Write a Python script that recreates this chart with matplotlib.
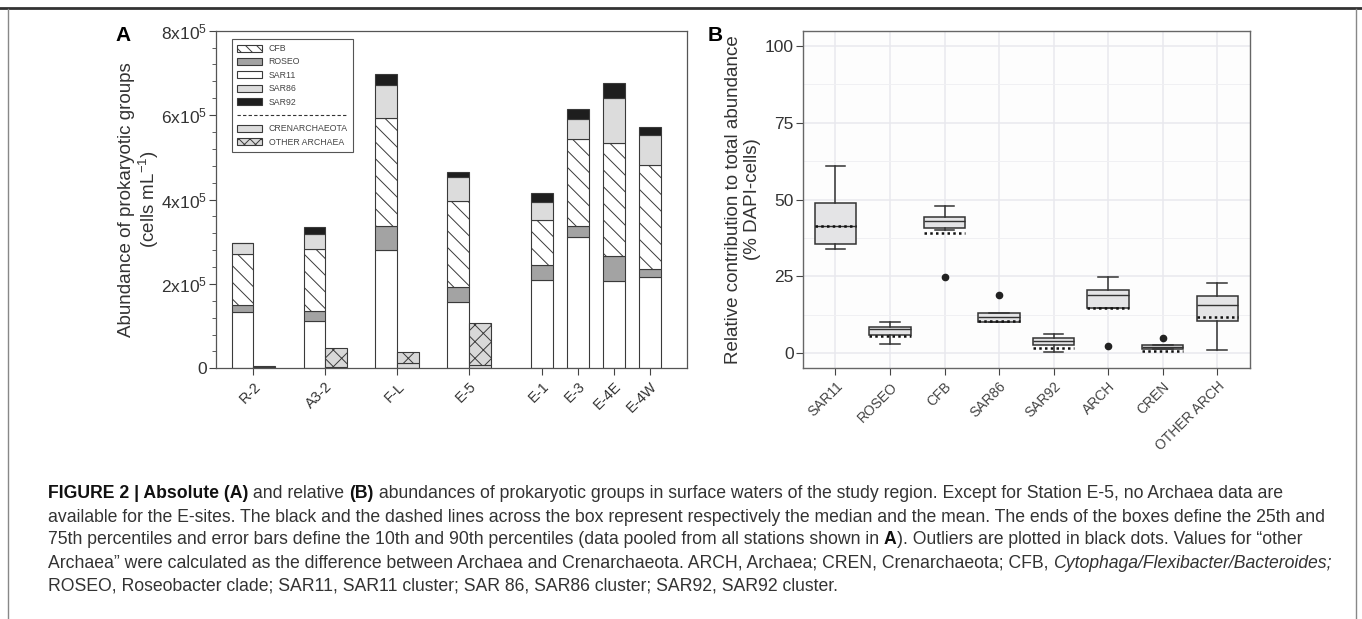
import numpy as np
import matplotlib
matplotlib.use("Agg")
import matplotlib.pyplot as plt
from matplotlib.lines import Line2D
from matplotlib.patches import Patch
from matplotlib.ticker import MultipleLocator

plt.rcParams.update({
    'font.family': ['Liberation Sans', 'DejaVu Sans'],
    'mathtext.fontset': 'custom',
    'mathtext.rm': 'Liberation Sans',
    'mathtext.it': 'Liberation Sans:italic',
    'mathtext.bf': 'Liberation Sans:bold',
    'hatch.linewidth': 0.7,
    'hatch.color': '#333333',
})

# ---- panel A data (x 1e5 cells/mL) ----
stations = ['R-2', 'A3-2', 'F-L', 'E-5', 'E-1', 'E-3', 'E-4E', 'E-4W']
sar11 = [1.33, 1.11, 2.80, 1.56, 2.10, 3.10, 2.08, 2.16]
roseo = [0.17, 0.24, 0.58, 0.36, 0.34, 0.28, 0.57, 0.19]
cfb = [1.20, 1.47, 2.56, 2.04, 1.08, 2.05, 2.70, 2.46]
sar86 = [0.27, 0.37, 0.78, 0.58, 0.42, 0.48, 1.06, 0.71]
sar92 = [0.00, 0.17, 0.25, 0.10, 0.22, 0.23, 0.36, 0.19]
arch_stations = ['R-2', 'A3-2', 'F-L', 'E-5']
cren = [0.03, 0.04, 0.13, 0.08]
other_arch = [0.02, 0.43, 0.26, 0.99]

# ---- panel B data (% DAPI cells) ----
groups = ['SAR11', 'ROSEO', 'CFB', 'SAR86', 'SAR92', 'ARCH', 'CREN', 'OTHER ARCH']
p10 = [34.0, 3.0, 40.1, 10.0, 0.4, 14.6, 1.5, 0.9]
p25 = [35.6, 6.0, 40.6, 10.0, 2.7, 14.6, 1.5, 10.6]
median = [41.4, 7.9, 42.9, 11.9, 3.9, 19.1, 2.0, 15.7]
p75 = [49.0, 8.5, 44.4, 13.0, 5.0, 20.5, 2.8, 18.7]
p90 = [61.0, 10.0, 47.9, 13.0, 6.1, 24.9, 2.8, 23.0]
mean = [41.4, 5.5, 39.2, 10.5, 1.7, 14.6, 0.8, 11.9]
outliers = [[], [], [24.9], [19.0], [], [2.2], [5.0], []]

fig = plt.figure(figsize=(13.62, 6.19), dpi=100)
W, H = 1362, 619

# ================= panel A =================
axA = fig.add_axes([216 / W, 1 - 368.3 / H, 471 / W, 337.6 / H])
bx = np.array([0, 3.3, 6.6, 9.9, 13.75, 15.4, 17.05, 18.7])
ax_x = bx[:4] + 1
scale = 1e5
ec = '#3a3a3a'
layers = [(sar11, 'white', None), (roseo, '#a3a3a3', None), (cfb, 'white', '\\\\'),
          (sar86, '#dcdcdc', None), (sar92, '#1e1e1e', None)]
bottom = np.zeros(len(stations))
for vals, col, hatch in layers:
    v = np.array(vals) * scale
    axA.bar(bx, v, width=1, bottom=bottom, color=col, edgecolor=ec, linewidth=0.8, hatch=hatch)
    bottom += v
c = np.array(cren) * scale
o = np.array(other_arch) * scale
axA.bar(ax_x, c, width=1, color='#dcdcdc', edgecolor=ec, linewidth=0.8)
axA.bar(ax_x, o, width=1, bottom=c, color='#d8d8d8', edgecolor=ec, linewidth=0.8, hatch='xx')

axA.set_xlim(-1.216, 20.39)
axA.set_ylim(0, 8e5)
axA.set_yticks([0, 2e5, 4e5, 6e5, 8e5])
axA.set_yticklabels(['0', '2x10$^5$', '4x10$^5$', '6x10$^5$', '8x10$^5$'])
axA.yaxis.set_minor_locator(MultipleLocator(0.4e5))
tick_x = list(bx[:4] + 0.5) + list(bx[4:])
axA.set_xticks(tick_x)
axA.set_xticklabels(stations, rotation=45, ha='right', rotation_mode='anchor')
axA.tick_params(axis='y', which='major', length=5, pad=1.5, labelsize=12.5, colors='#444', labelcolor='#333')
axA.tick_params(axis='y', which='minor', length=3, colors='#444')
axA.tick_params(axis='x', length=5, pad=3, labelsize=10.5, colors='#444', labelcolor='#333')
for s in axA.spines.values():
    s.set_color('#555')
    s.set_linewidth(0.9)
axA.set_ylabel('Abundance of prokaryotic groups\n(cells mL$^{-1}$)', fontsize=13.5,
               color='#333', labelpad=0, linespacing=1.1)

handles = [Patch(facecolor='white', edgecolor=ec, hatch='\\\\\\', lw=0.8),
           Patch(facecolor='#a3a3a3', edgecolor=ec, lw=0.8),
           Patch(facecolor='white', edgecolor=ec, lw=0.8),
           Patch(facecolor='#dcdcdc', edgecolor=ec, lw=0.8),
           Patch(facecolor='#1e1e1e', edgecolor=ec, lw=0.8),
           Line2D([], [], color='none'),
           Patch(facecolor='#dcdcdc', edgecolor=ec, lw=0.8),
           Patch(facecolor='#d8d8d8', edgecolor=ec, hatch='xxx', lw=0.8)]
labels = ['CFB', 'ROSEO', 'SAR11', 'SAR86', 'SAR92', ' ', 'CRENARCHAEOTA', 'OTHER ARCHAEA']
leg = axA.legend(handles, labels, loc='upper left', bbox_to_anchor=(0.033, 0.976),
                 borderaxespad=0, fontsize=6.3, handlelength=2.9, handleheight=0.85,
                 labelspacing=0.5, handletextpad=0.75, borderpad=0.6, fancybox=False,
                 framealpha=1, edgecolor='#555', labelcolor='#444')
leg.get_frame().set_linewidth(0.8)

# ================= panel B =================
axB = fig.add_axes([802.7 / W, 1 - 368.3 / H, 447.3 / W, 337.6 / H])
stats = []
for i, g in enumerate(groups):
    stats.append(dict(label=g, whislo=p10[i], q1=p25[i], med=median[i], q3=p75[i],
                      whishi=p90[i], mean=mean[i], fliers=outliers[i]))
pos = np.arange(1, len(groups) + 1)
axB.bxp(stats, positions=pos, widths=0.76, capwidths=0.36, patch_artist=True,
        showmeans=True, meanline=True,
        boxprops=dict(facecolor='#e4e4e6', edgecolor='#333', linewidth=1.1),
        medianprops=dict(color='#333', linewidth=1.0),
        whiskerprops=dict(color='#333', linewidth=1.1),
        capprops=dict(color='#333', linewidth=1.1),
        meanprops=dict(color='#111', linestyle=(0, (1, 1.3)), linewidth=1.8),
        flierprops=dict(marker='o', markerfacecolor='#222', markeredgecolor='#222', markersize=4.5))
axB.set_xlim(0.4, 8.6)
axB.set_ylim(-4.9, 104.9)
axB.set_yticks([0, 25, 50, 75, 100])
axB.set_yticks([12.5, 37.5, 62.5, 87.5], minor=True)
axB.set_xticks(pos)
axB.set_xticklabels(groups, rotation=45, ha='right', rotation_mode='anchor')
axB.set_facecolor('#fdfdfd')
axB.grid(which='major', color='#e9e9ee', linewidth=1.1)
axB.grid(which='minor', axis='y', color='#f0f0f3', linewidth=0.7)
axB.set_axisbelow(True)
axB.tick_params(axis='y', which='minor', length=0)
axB.tick_params(axis='y', length=5, pad=1.5, labelsize=12.5, colors='#444', labelcolor='#333')
axB.tick_params(axis='x', length=5, pad=3, labelsize=10, colors='#444', labelcolor='#444')
for s in axB.spines.values():
    s.set_color('#666')
    s.set_linewidth(1.0)
axB.set_ylabel('Relative contribution to total abundance\n(% DAPI-cells)', fontsize=13.5,
               color='#333', labelpad=3, linespacing=1.1)

# panel letters
fig.text(115 / W, 1 - 26 / H, 'A', fontsize=15, fontweight='bold', va='top', ha='left')
fig.text(708 / W, 1 - 26 / H, 'B', fontsize=15, fontweight='bold', va='top', ha='left')

# frame
fig.add_artist(Line2D([0, 1], [1 - 8 / H] * 2, transform=fig.transFigure, color='#333', lw=2))
for xf in (8 / W, 1356 / W):
    fig.add_artist(Line2D([xf, xf], [0, 1 - 9 / H], transform=fig.transFigure, color='#888', lw=1))

# legend separator line
fig.canvas.draw()
r = fig.canvas.get_renderer()
fb = leg.get_frame().get_window_extent(r)
tb = leg.get_texts()[5].get_window_extent(r)
yy = (tb.y0 + tb.y1) / 2 / H
fig.add_artist(Line2D([(fb.x0 + 5) / W, (fb.x1 - 5) / W], [yy, yy], transform=fig.transFigure,
                      color='#333', lw=0.8, ls=(0, (3, 2))))

# caption with mixed styles
cap_lines = [
    [("FIGURE 2 | Absolute (A)", 'bold', 'normal'), (" and relative ", 'normal', 'normal'),
     ("(B)", 'bold', 'normal'),
     (" abundances of prokaryotic groups in surface waters of the study region. Except for Station E-5, no Archaea data are", 'normal', 'normal')],
    [("available for the E-sites. The black and the dashed lines across the box represent respectively the median and the mean. The ends of the boxes define the 25th and", 'normal', 'normal')],
    [("75th percentiles and error bars define the 10th and 90th percentiles (data pooled from all stations shown in ", 'normal', 'normal'),
     ("A", 'bold', 'normal'),
     ("). Outliers are plotted in black dots. Values for \u201cother", 'normal', 'normal')],
    [("Archaea\u201d were calculated as the difference between Archaea and Crenarchaeota. ARCH, Archaea; CREN, Crenarchaeota; CFB, ", 'normal', 'normal'),
     ("Cytophaga/Flexibacter/Bacteroides;", 'normal', 'italic')],
    [("ROSEO, Roseobacter clade; SAR11, SAR11 cluster; SAR 86, SAR86 cluster; SAR92, SAR92 cluster.", 'normal', 'normal')],
]


def seg_width(txt, size, weight, style):
    t = fig.text(0, 0, '|' + txt + '|', fontsize=size, fontweight=weight, fontstyle=style)
    t2 = fig.text(0, 0, '||', fontsize=size, fontweight=weight, fontstyle=style)
    w = t.get_window_extent(r).width - t2.get_window_extent(r).width
    t.remove()
    t2.remove()
    return w


# fit caption size to the width of the second line
w12 = seg_width(cap_lines[1][0][0], 12, 'normal', 'normal')
cap_size = 12 * (1327 - 48) / w12

line_y = [494, 517, 540, 563, 586]
for segs, ly in zip(cap_lines, line_y):
    x = 48
    for txt, weight, style in segs:
        col = '#111' if weight == 'bold' else '#333'
        fig.text(x / W, 1 - ly / H, txt, fontsize=cap_size, fontweight=weight, fontstyle=style,
                 va='center', ha='left', color=col)
        x += seg_width(txt, cap_size, weight, style)

fig.savefig('out.png', dpi=100)
